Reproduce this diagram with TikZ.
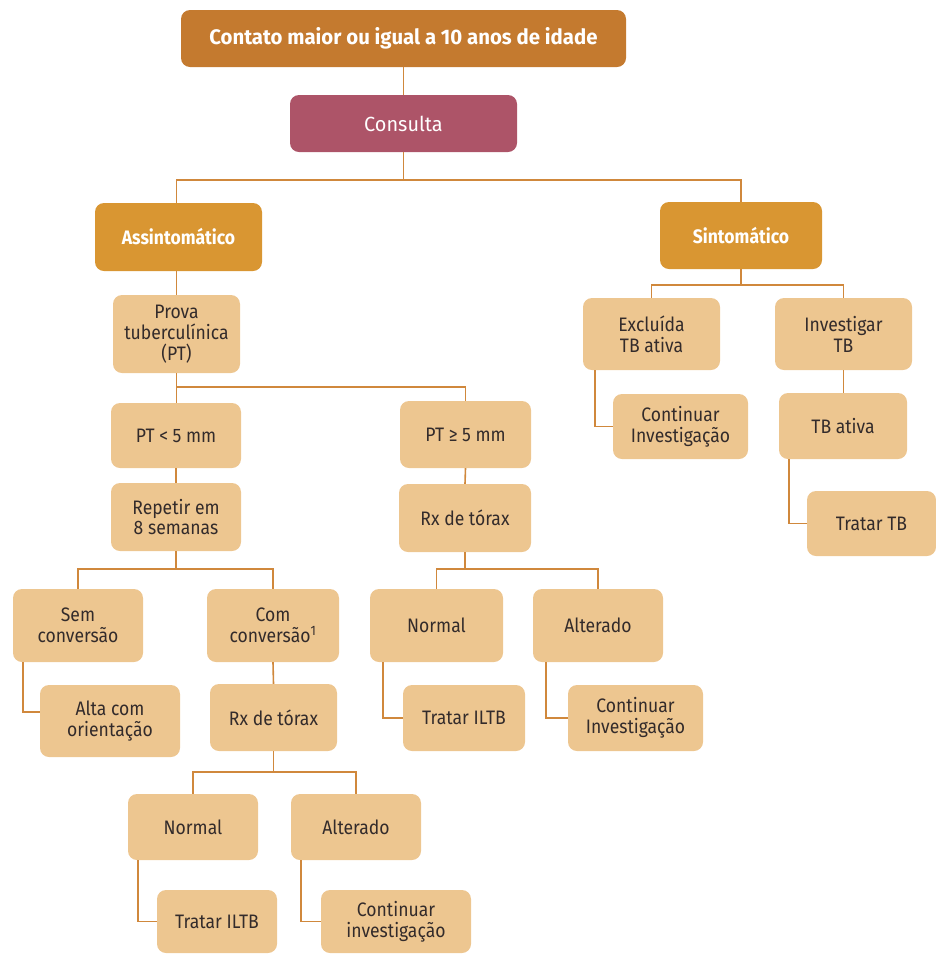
\documentclass[tikz,border=0pt]{standalone}
\usepackage{fontspec}
\setmainfont{Fira Sans}[FakeStretch=0.9]
\newfontfamily\widefont{Fira Sans}[FakeStretch=0.97]
\definecolor{topc}{HTML}{C47A2F}
\definecolor{consc}{HTML}{AD5468}
\definecolor{midc}{HTML}{D99632}
\definecolor{lightc}{HTML}{EDC690}
\definecolor{linec}{HTML}{D0883C}
\definecolor{txtc}{HTML}{332B2B}
\tikzset{
  basebox/.style={rounded corners=9pt, inner sep=0pt, align=center,
    font=\fontsize{19.5}{20.8}\selectfont},
  topbox/.style={basebox, fill=topc, text=white, font=\widefont\fontsize{21}{23}\selectfont\bfseries},
  consbox/.style={basebox, fill=consc, text=white, font=\widefont\fontsize{20.5}{22}\selectfont},
  midbox/.style={basebox, fill=midc, text=white, font=\fontsize{19.5}{20.8}\selectfont\bfseries},
  lbox/.style={basebox, fill=lightc, text=txtc},
  conn/.style={draw=linec, line width=1.6pt},
}
\begin{document}
\begin{tikzpicture}[x=1pt, y=-1pt]
\useasboundingbox (0,0) rectangle (936,954);
% nodes
\node[topbox, minimum width=445pt, minimum height=57pt] (top) at (403.5,38.5) {Contato maior ou igual a 10 anos de idade};
\node[consbox, minimum width=227pt, minimum height=57pt] (cons) at (403.5,123.5) {Consulta};
\node[midbox, minimum width=167pt, minimum height=68pt] (asym) at (178.5,237) {Assintomático};
\node[midbox, minimum width=162pt, minimum height=67pt] (sint) at (741,235.5) {Sintomático};
\node[lbox, minimum width=127pt, minimum height=78pt] (prova) at (176.5,334) {Prova\\tuberculínica\\(PT)};
\node[lbox, minimum width=130pt, minimum height=65pt] (ptl) at (176,435.5) {PT < 5 mm};
\node[lbox, minimum width=130pt, minimum height=68pt] (rep) at (176,517) {Repetir em\\8 semanas};
\node[lbox, minimum width=131pt, minimum height=67pt] (ptg) at (465.5,434.5) {PT ≥ 5 mm};
\node[lbox, minimum width=132pt, minimum height=68pt] (rxr) at (465,518) {Rx de tórax};
\node[lbox, minimum width=130pt, minimum height=73pt] (sem) at (78,625.5) {Sem\\conversão};
\node[lbox, minimum width=132pt, minimum height=73pt] (com) at (273,625.5) {Com\\conversão\textsuperscript{1}};
\node[lbox, minimum width=140pt, minimum height=72pt] (alta) at (110,721) {Alta com\\orientação};
\node[lbox, minimum width=127pt, minimum height=67pt] (rxl) at (273.5,717.5) {Rx de tórax};
\node[lbox, minimum width=130pt, minimum height=66pt] (norl) at (193,827) {Normal};
\node[lbox, minimum width=130pt, minimum height=66pt] (altl) at (356,827) {Alterado};
\node[lbox, minimum width=120pt, minimum height=63pt] (tril) at (217,921.5) {Tratar ILTB};
\node[lbox, minimum width=150pt, minimum height=63pt] (conl) at (396,921.5) {Continuar\\investigação};
\node[lbox, minimum width=133pt, minimum height=73pt] (norm) at (436.5,625.5) {Normal};
\node[lbox, minimum width=130pt, minimum height=73pt] (altm) at (598,625.5) {Alterado};
\node[lbox, minimum width=122pt, minimum height=66pt] (trim) at (464,718) {Tratar ILTB};
\node[lbox, minimum width=135pt, minimum height=66pt] (conm) at (635.5,718) {Continuar\\Investigação};
\node[lbox, minimum width=137pt, minimum height=72pt] (exc) at (651.5,334) {Excluída\\TB ativa};
\node[lbox, minimum width=137pt, minimum height=72pt] (inv) at (843.5,334) {Investigar\\TB};
\node[lbox, minimum width=135pt, minimum height=65pt] (conr) at (680.5,426.5) {Continuar\\Investigação};
\node[lbox, minimum width=128pt, minimum height=66pt] (tba) at (843,426) {TB ativa};
\node[lbox, minimum width=129pt, minimum height=65pt] (trtb) at (871.5,523.5) {Tratar TB};
% connectors
\draw[conn] (top.south) -- (cons.north);
\draw[conn] (cons.south) -- (cons.south |- 0,180);
\draw[conn] (asym.north -| prova.north) -- (prova.north |- 0,180) -- (sint.north |- 0,180) -- (sint.north);
\draw[conn] (asym.south -| prova.north) -- (prova.north);
\draw[conn] (prova.south) -- (prova.south |- ptl.north);
\draw[conn] (prova.south |- 0,387) -- (ptg.north |- 0,387) -- (ptg.north);
\draw[conn] (ptl.south) -- (rep.north);
\draw[conn] (ptg.south) -- (rxr.north);
\draw[conn] (rep.south) -- (rep.south |- 0,569);
\draw[conn] (sem.north) -- (sem.north |- 0,569) -- (com.north |- 0,569) -- (com.north);
\draw[conn] ([xshift=10pt]sem.south west) |- ([yshift=9pt]alta.west);
\draw[conn] (com.south) -- (rxl.north);
\draw[conn] (rxl.south) -- (rxl.south |- 0,772);
\draw[conn] (norl.north) -- (norl.north |- 0,772) -- (altl.north |- 0,772) -- (altl.north);
\draw[conn] ([xshift=10pt]norl.south west) |- (tril.west);
\draw[conn] ([xshift=10pt]altl.south west) |- (conl.west);
\draw[conn] (rxr.south) -- (rxr.south |- 0,569);
\draw[conn] (norm.north) -- (norm.north |- 0,569) -- (altm.north |- 0,569) -- (altm.north);
\draw[conn] ([xshift=13pt]norm.south west) |- (trim.west);
\draw[conn] ([xshift=13pt]altm.south west) |- (conm.west);
\draw[conn] (sint.south) -- (sint.south |- 0,285);
\draw[conn] (exc.north) -- (exc.north |- 0,285) -- (inv.north |- 0,285) -- (inv.north);
\draw[conn] ([xshift=12pt]exc.south west) |- (conr.west);
\draw[conn] (inv.south) -- (tba.north -| inv.south);
\draw[conn] ([xshift=10pt]tba.south west) |- (trtb.west);
\end{tikzpicture}
\end{document}
